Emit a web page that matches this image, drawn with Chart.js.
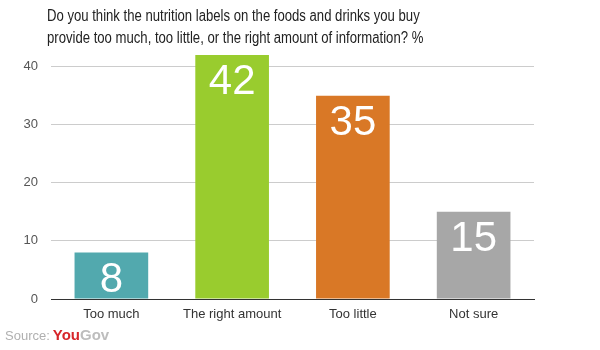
<!DOCTYPE html>
<html>
<head>
<meta charset="utf-8">
<script src="https://cdn.jsdelivr.net/npm/chart.js@4/dist/chart.umd.min.js"></script>
<style>
  html, body { margin: 0; padding: 0; background: #fff; }
  #wrap { position: relative; width: 600px; height: 350px; }
  #title { position: absolute; left: 47px; top: 5px; font: 16px "Liberation Sans", Arial, sans-serif; color: #222; line-height: 22px; white-space: nowrap; transform: scaleX(0.82); transform-origin: 0 0; }
  #source { position: absolute; left: 5px; top: 326px; font: 13px "Liberation Sans", Arial, sans-serif; color: #b0b0b0; white-space: nowrap; }
  #source .you { color: #d7262a; font-weight: bold; font-size: 15px; margin-left: 3px; }
  #source .gov { color: #bdbdbd; font-weight: bold; font-size: 15px; }
  canvas { position: absolute; left: 0; top: 0; }
</style>
</head>
<body>
<div id="wrap">
  <canvas id="c" width="600" height="350"></canvas>
  <div id="title">Do you think the nutrition labels on the foods and drinks you buy<br>provide too much, too little, or the right amount of information? %</div>
  <div id="source">Source:<span class="you">You</span><span class="gov">Gov</span></div>
</div>
<script>
const categories = ["Too much", "The right amount", "Too little", "Not sure"];
const values = [8, 42, 35, 15];
const barColors = ["#52a9ae", "#99cc2e", "#d97826", "#a7a7a7"];
const yTicks = [0, 10, 20, 30, 40];

const valueLabels = {
  id: 'valueLabels',
  afterDatasetsDraw(chart) {
    const ctx = chart.ctx;
    const meta = chart.getDatasetMeta(0);
    ctx.save();
    ctx.fillStyle = '#ffffff';
    ctx.font = '42px "Liberation Sans", Arial, sans-serif';
    ctx.textAlign = 'center';
    ctx.textBaseline = 'alphabetic';
    meta.data.forEach((bar, i) => {
      ctx.fillText(String(values[i]), bar.x, bar.y + 39);
    });
    ctx.restore();
  }
};

new Chart(document.getElementById('c'), {
  type: 'bar',
  data: {
    labels: categories,
    datasets: [{
      data: values,
      backgroundColor: barColors,
      borderWidth: 0,
      barPercentage: 0.61,
      categoryPercentage: 1.0
    }]
  },
  options: {
    responsive: false,
    animation: false,
    layout: { padding: { top: 55, left: 0, right: 66, bottom: 21 } },
    plugins: { legend: { display: false }, tooltip: { enabled: false } },
    scales: {
      x: {
        grid: { display: false, drawTicks: false },
        border: { display: true, color: '#333', width: 1 },
        ticks: { color: '#333', font: { family: '"Liberation Sans", Arial, sans-serif', size: 13 }, padding: 8 },
        afterFit(scale) { scale.height = 30; }
      },
      y: {
        min: 0, max: 42,
        grid: { color: '#cccccc', drawTicks: false },
        border: { display: false },
        ticks: { stepSize: 10, color: '#555', font: { family: '"Liberation Sans", Arial, sans-serif', size: 13 }, padding: 13 },
        afterBuildTicks(scale) { scale.ticks = yTicks.map(v => ({ value: v })); },
        afterFit(scale) { scale.width = 51; }
      }
    }
  },
  plugins: [valueLabels]
});
</script>
</body>
</html>
